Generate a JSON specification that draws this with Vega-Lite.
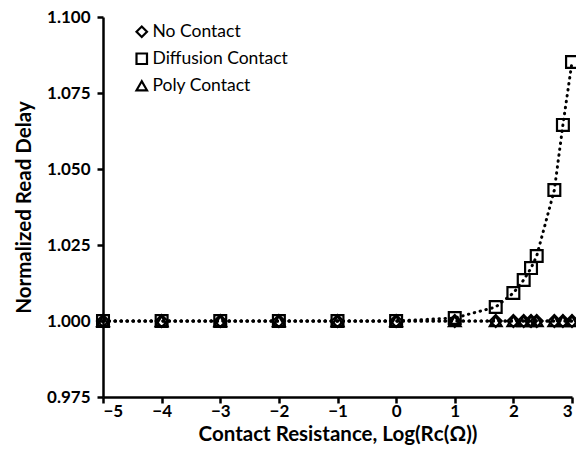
{
  "$schema": "https://vega.github.io/schema/vega-lite/v6.json",
  "width": 469,
  "height": 380,
  "autosize": {"type": "none"},
  "padding": {"left": 103, "top": 17, "right": 4, "bottom": 59},
  "background": "white",
  "config": {
    "view": {"stroke": null},
    "font": "Lato",
    "axis": {
      "domainColor": "black",
      "domainWidth": 2.5,
      "tickColor": "black",
      "tickWidth": 2.5,
      "tickSize": 6,
      "grid": false,
      "labelFont": "Lato",
      "labelFontWeight": "bold",
      "labelFontSize": 17,
      "labelColor": "black",
      "titleFont": "Lato",
      "titleFontWeight": "bold",
      "titleFontSize": 20.5,
      "titleColor": "black"
    }
  },
  "data": {
    "values": [
      {"series": "No Contact", "x": -5, "y": 1.0},
      {"series": "No Contact", "x": -4, "y": 1.0},
      {"series": "No Contact", "x": -3, "y": 1.0},
      {"series": "No Contact", "x": -2, "y": 1.0},
      {"series": "No Contact", "x": -1, "y": 1.0},
      {"series": "No Contact", "x": 0, "y": 1.0},
      {"series": "No Contact", "x": 1, "y": 1.0},
      {"series": "No Contact", "x": 1.699, "y": 1.0},
      {"series": "No Contact", "x": 2, "y": 1.0},
      {"series": "No Contact", "x": 2.176, "y": 1.0},
      {"series": "No Contact", "x": 2.301, "y": 1.0},
      {"series": "No Contact", "x": 2.398, "y": 1.0},
      {"series": "No Contact", "x": 2.699, "y": 1.0},
      {"series": "No Contact", "x": 2.845, "y": 1.0},
      {"series": "No Contact", "x": 3, "y": 1.0},
      {"series": "Diffusion Contact", "x": -5, "y": 1.0},
      {"series": "Diffusion Contact", "x": -4, "y": 1.0},
      {"series": "Diffusion Contact", "x": -3, "y": 1.0},
      {"series": "Diffusion Contact", "x": -2, "y": 1.0},
      {"series": "Diffusion Contact", "x": -1, "y": 1.0},
      {"series": "Diffusion Contact", "x": 0, "y": 1.0},
      {"series": "Diffusion Contact", "x": 1, "y": 1.001},
      {"series": "Diffusion Contact", "x": 1.699, "y": 1.0046},
      {"series": "Diffusion Contact", "x": 2, "y": 1.0092},
      {"series": "Diffusion Contact", "x": 2.176, "y": 1.0135},
      {"series": "Diffusion Contact", "x": 2.301, "y": 1.0174},
      {"series": "Diffusion Contact", "x": 2.398, "y": 1.0214},
      {"series": "Diffusion Contact", "x": 2.699, "y": 1.0431},
      {"series": "Diffusion Contact", "x": 2.845, "y": 1.0645},
      {"series": "Diffusion Contact", "x": 3, "y": 1.0852},
      {"series": "Poly Contact", "x": -5, "y": 1.0},
      {"series": "Poly Contact", "x": -4, "y": 1.0},
      {"series": "Poly Contact", "x": -3, "y": 1.0},
      {"series": "Poly Contact", "x": -2, "y": 1.0},
      {"series": "Poly Contact", "x": -1, "y": 1.0},
      {"series": "Poly Contact", "x": 0, "y": 1.0},
      {"series": "Poly Contact", "x": 1, "y": 1.0},
      {"series": "Poly Contact", "x": 1.699, "y": 1.0},
      {"series": "Poly Contact", "x": 2, "y": 1.0},
      {"series": "Poly Contact", "x": 2.176, "y": 1.0},
      {"series": "Poly Contact", "x": 2.301, "y": 1.0},
      {"series": "Poly Contact", "x": 2.398, "y": 1.0},
      {"series": "Poly Contact", "x": 2.699, "y": 1.0},
      {"series": "Poly Contact", "x": 2.845, "y": 1.0},
      {"series": "Poly Contact", "x": 3, "y": 1.0}
    ]
  },
  "encoding": {
    "x": {
      "field": "x",
      "type": "quantitative",
      "scale": {"domain": [-5, 3], "nice": false, "zero": false},
      "axis": {
        "values": [-5, -4, -3, -2, -1, 0, 1, 2, 3],
        "format": "d",
        "labelPadding": 0,
        "title": "Contact Resistance, Log(Rᴄ(Ω))",
        "titlePadding": 5
      }
    },
    "y": {
      "field": "y",
      "type": "quantitative",
      "scale": {"domain": [0.975, 1.1], "nice": false, "zero": false},
      "axis": {
        "values": [0.975, 1.0, 1.025, 1.05, 1.075, 1.1],
        "format": ".3f",
        "labelPadding": 7,
        "title": "Normalized Read Delay",
        "titlePadding": 12
      }
    }
  },
  "layer": [
    {
      "mark": {
        "type": "line",
        "color": "black",
        "strokeWidth": 3,
        "strokeDash": [0.5, 5.5],
        "strokeCap": "round"
      },
      "encoding": {
        "detail": {"field": "series"},
        "order": {"field": "x"}
      }
    },
    {
      "mark": {
        "type": "point",
        "filled": false,
        "stroke": "black",
        "strokeWidth": 2.2,
        "size": 140,
        "opacity": 1
      },
      "encoding": {
        "shape": {
          "field": "series",
          "type": "nominal",
          "sort": ["No Contact", "Diffusion Contact", "Poly Contact"],
          "scale": {
            "domain": ["No Contact", "Diffusion Contact", "Poly Contact"],
            "range": ["diamond", "square", "triangle-up"]
          },
          "legend": {
            "title": null,
            "orient": "none",
            "legendX": 30,
            "legendY": 6,
            "labelFont": "Lato",
            "labelFontSize": 17.5,
            "labelColor": "black",
            "symbolSize": 110,
            "symbolStrokeColor": "black",
            "symbolFillColor": "transparent",
            "symbolStrokeWidth": 2.2,
            "rowPadding": 7,
            "labelOffset": 2
          }
        }
      }
    }
  ]
}
